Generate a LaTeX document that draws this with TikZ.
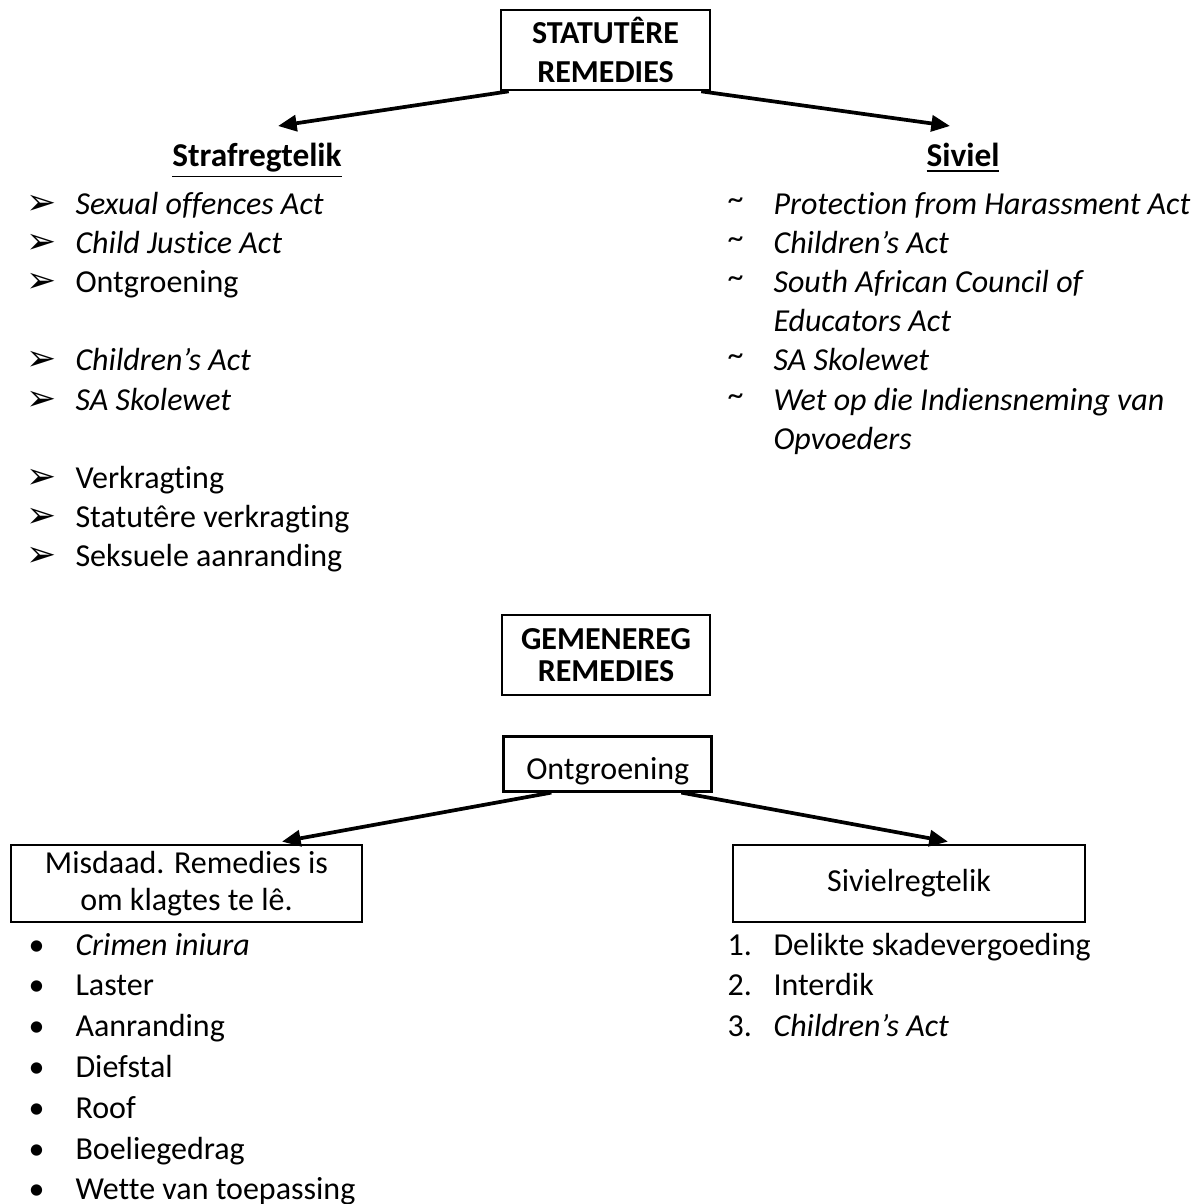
\documentclass[tikz,border=0pt,12pt]{standalone}
\usepackage{fontspec}
\setmainfont{Carlito}[Ligatures={TeX,NoCommon}]
\newfontfamily\dingfont{DejaVu Sans}
\usetikzlibrary{arrows.meta}

\tikzset{
  remedybox/.style={draw, line width=1pt, align=center, inner sep=0pt},
  branch/.style={-{Triangle[length=7pt,width=6pt]}, line width=1.4pt},
  item/.style={anchor=base west, inner sep=0pt},
  heading/.style={anchor=base, inner sep=0pt, font=\bfseries\fontsize{12.5}{15}\selectfont}
}

\begin{document}
\begin{tikzpicture}[x=0.375pt, y=-0.375pt]
\useasboundingbox (0,0) rectangle (1200,1204);

%statutory part
\node[remedybox, minimum width=78.4pt, minimum height=30pt, font=\bfseries] (stat) at (605.5,50) {STATUTÊRE\\REMEDIES};

\coordinate (strafpunt) at (278,126);
\coordinate (sivielpunt) at (950,126);
\draw[branch] ([xshift=3.4pt]stat.south west) -- (strafpunt);
\draw[branch] ([xshift=-3.8pt]stat.south east) -- (sivielpunt);

\node[heading] (straf) at (257,167) {\underline{Strafregtelik}};
\node[heading] (siviel) at (963,167) {\underline{Siviel}};

%left list
\foreach \row/\txt in {0/\textit{Sexual offences Act}, 1/\textit{Child Justice Act}, 2/Ontgroening,
  4/\textit{Children’s Act}, 5/\textit{SA Skolewet}, 7/Verkragting, 8/Statutêre verkragting, 9/Seksuele aanranding}
{
  \node[item, font=\dingfont\fontsize{13.5}{15}\selectfont] (sb\row) at (26,215+39*\row) {➢};
  \node[item] (st\row) at (75,215+39*\row) {\txt};
}

%right list
\foreach \row/\txt in {0/Protection from Harassment Act, 1/Children’s Act, 2/South African Council of,
  3/Educators Act, 4/SA Skolewet, 5/Wet op die Indiensneming van, 6/Opvoeders}
  \node[item, font=\itshape] (vt\row) at (773,215+39*\row) {\txt};
\foreach \row in {0,1,2,4,5}
  \node[item] (vb\row) at (727,210+39*\row) {\textasciitilde};

%common law part
\node[remedybox, minimum width=78pt, minimum height=30pt, font=\bfseries\fontsize{12}{12}\selectfont] (gem) at (606,655) {GEMENEREG\\REMEDIES};

\node[remedybox, anchor=north west, align=left, text width=60.8pt, inner xsep=8.6pt,
  text height=16.1pt, text depth=4.5pt] (ontg) at (502,735) {Ontgroening};

\node[remedybox, minimum width=131.6pt, minimum height=28.9pt, font=\fontsize{12}{13.9}\selectfont] (misd) at (186.5,883.5) {Misdaad. Remedies is\\om klagtes te lê.};
\node[remedybox, minimum width=132pt, minimum height=28.9pt] (sivr) at (909,883.5) {Sivielregtelik};

\draw[branch] ([xshift=-21pt]ontg.south) -- ([xshift=35.8pt,yshift=0.75pt]misd.north);
\draw[branch] ([xshift=27.75pt]ontg.south) -- ([xshift=14.6pt,yshift=0.75pt]sivr.north);

%bullets under Misdaad
\foreach \row/\txt in {0/\textit{Crimen iniura}, 1/Laster, 2/Aanranding, 3/Diefstal, 4/Roof, 5/Boeliegedrag, 6/Wette van toepassing}
{
  \node[item] (mb\row) at (28,955+40.8*\row) {•};
  \node[item] (mt\row) at (75,955+40.8*\row) {\txt};
}

%numbered list under Sivielregtelik
\foreach \row/\txt in {1/Delikte skadevergoeding, 2/Interdik, 3/\textit{Children’s Act}}
{
  \node[item] (nb\row) at (727,955+40.8*\row-40.8) {\row.};
  \node[item] (nt\row) at (773,955+40.8*\row-40.8) {\txt};
}
\end{tikzpicture}
\end{document}
